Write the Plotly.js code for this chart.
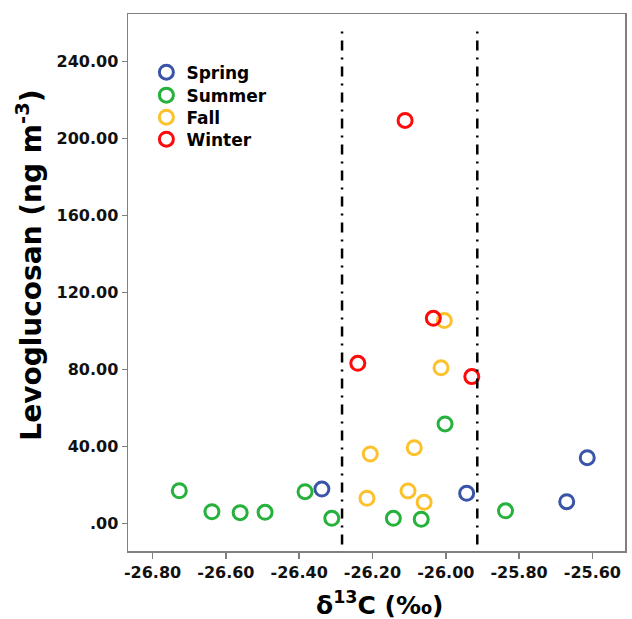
<!DOCTYPE html>
<html>
<head>
<meta charset="utf-8">
<script src="https://cdn.plot.ly/plotly-3.0.1.min.js"></script>
<style>html,body{margin:0;padding:0;background:#fff;}#chart{width:632px;height:619px;}</style>
</head>
<body>
<div id="chart"></div>
<script>
// Series (x = δ13C ‰, y = levoglucosan ng m-3)
const springX = [-26.338, -25.943, -25.670, -25.614];
const springY = [17.9, 15.7, 11.3, 34.2];
const summerX = [-26.727, -26.638, -26.561, -26.493, -26.384, -26.311, -26.143, -26.067, -26.002, -25.837];
const summerY = [17.0, 6.1, 5.6, 5.8, 16.5, 2.7, 2.7, 2.2, 51.7, 6.6];
const fallX = [-26.206, -26.086, -26.215, -26.103, -26.059, -26.013, -26.004];
const fallY = [36.1, 39.4, 13.1, 16.9, 11.0, 80.9, 105.4];
const winterX = [-26.111, -26.034, -26.240, -25.929];
const winterY = [209.4, 106.6, 83.2, 76.3];

const seriesNames = ["Spring", "Summer", "Fall", "Winter"];
const seriesColors = ["#3a54a8", "#26b13c", "#fdc12c", "#fe0a0a"];

// Reference lines (δ13C)
const refLinesX = [-26.283, -25.914];

// Ticks
const xTickVals = [-26.8, -26.6, -26.4, -26.2, -26.0, -25.8, -25.6];
const xTickText = ["-26.80", "-26.60", "-26.40", "-26.20", "-26.00", "-25.80", "-25.60"];
const yTickVals = [0, 40, 80, 120, 160, 200, 240];
const yTickText = [".00", "40.00", "80.00", "120.00", "160.00", "200.00", "240.00"];

const FONT = "DejaVu Sans, Liberation Sans, Arial, sans-serif";

const xs = [springX, summerX, fallX, winterX];
const ys = [springY, summerY, fallY, winterY];
const legendIds = ["legend", "legend2", "legend3", "legend4"];
const legendYs = [0.9244, 0.8816, 0.8406, 0.7996];

const traces = seriesNames.map((n, i) => ({
  type: "scatter",
  mode: "markers",
  name: n,
  legend: legendIds[i],
  x: xs[i],
  y: ys[i],
  marker: {symbol: "circle-open", size: 14, color: seriesColors[i], line: {width: 3, color: seriesColors[i]}},
  hoverinfo: "x+y+name"
}));

const shapes = refLinesX.map(v => ({
  type: "line", xref: "x", yref: "paper", x0: v, x1: v, y0: 0.012, y1: 0.975,
  line: {color: "#000", width: 2.5, dash: "10px,7px,2px,7px"}
}));

const layout = {
  width: 632, height: 619,
  margin: {l: 128, r: 7, t: 14, b: 68},
  paper_bgcolor: "#fff", plot_bgcolor: "#fff",
  showlegend: true,
  xaxis: {
    range: [-26.867, -25.511],
    tickvals: xTickVals, ticktext: xTickText,
    ticks: "outside", ticklen: 6, tickwidth: 1.5, tickcolor: "#808080",
    showline: true, linecolor: "#808080", linewidth: 1.5, mirror: true,
    showgrid: false, zeroline: false,
    tickfont: {family: FONT, size: 16, color: "#111", weight: "bold"}
  },
  yaxis: {
    range: [-14.3, 264.7],
    tickvals: yTickVals, ticktext: yTickText,
    ticks: "outside", ticklen: 5, tickwidth: 1.5, tickcolor: "#808080",
    showline: true, linecolor: "#808080", linewidth: 1.5, mirror: true,
    showgrid: false, zeroline: false,
    tickfont: {family: FONT, size: 16, color: "#111", weight: "bold"}
  },
  shapes: shapes,
  annotations: [
    {text: "Levoglucosan (ng m<sup>-3</sup>)", xref: "paper", yref: "paper",
     x: -0.1985, y: 0.532, xanchor: "center", yanchor: "middle", textangle: -90, showarrow: false,
     font: {family: FONT, size: 28, color: "#000", weight: "bold"}},
    {text: "δ<sup>13</sup>C (‰)", xref: "paper", yref: "paper",
     x: 0.507, y: -0.097, xanchor: "center", yanchor: "middle", showarrow: false,
     font: {family: FONT, size: 25, color: "#000", weight: "bold"}}
  ]
};

legendIds.forEach((id, i) => {
  layout[id] = {
    x: 0.037, y: legendYs[i], xanchor: "left", yanchor: "top",
    bgcolor: "rgba(0,0,0,0)", borderwidth: 0,
    font: {family: FONT, size: 17, color: "#000", weight: "bold"},
    itemwidth: 30
  };
});

Plotly.newPlot("chart", traces, layout, {displayModeBar: false, staticPlot: true});
</script>
</body>
</html>
